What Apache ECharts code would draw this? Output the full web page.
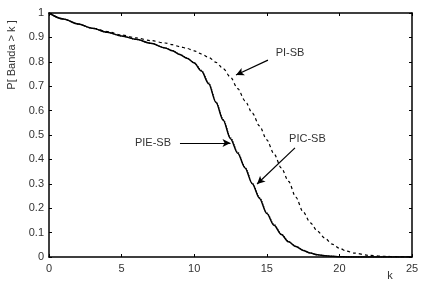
<!DOCTYPE html>
<html><head><meta charset="utf-8">
<script src="https://cdn.jsdelivr.net/npm/echarts@6/dist/echarts.min.js"></script>
<style>html,body{margin:0;padding:0;background:#fff}#c{width:427px;height:284px}</style>
</head><body><div id="c"></div>
<script>
// k values
var kValues = [0,1,2,3,4,5,6,7,8,8.5,9,9.5,10,10.5,11,11.5,12,12.5,13,13.5,14,14.5,15,15.5,16,16.5,17,17.5,18,18.5,19,19.5,20,20.5,21,22,23,24,25];
// PIE-SB (solid)
var pieSB = [1.0,0.975,0.955,0.937,0.921,0.906,0.892,0.876,0.857,0.845,0.83,0.815,0.795,0.762,0.71,0.633,0.56,0.485,0.425,0.365,0.30,0.24,0.178,0.13,0.092,0.062,0.043,0.027,0.016,0.009,0.005,0.003,0.001,0.0005,0,0,0,0,0];
// PIC-SB (dotted)
var picSB = [1.0,0.975,0.955,0.937,0.921,0.906,0.892,0.876,0.857,0.846,0.831,0.816,0.797,0.765,0.714,0.637,0.564,0.489,0.429,0.369,0.304,0.244,0.181,0.133,0.094,0.064,0.044,0.028,0.016,0.009,0.005,0.003,0.001,0.0005,0,0,0,0,0];
// PI-SB (dashed)
var piSB = [1.0,0.975,0.955,0.938,0.924,0.910,0.898,0.887,0.877,0.870,0.862,0.855,0.845,0.832,0.818,0.798,0.772,0.737,0.69,0.64,0.59,0.537,0.48,0.422,0.365,0.31,0.245,0.185,0.14,0.105,0.077,0.053,0.036,0.024,0.016,0.007,0.003,0.001,0];
var xTicks = [0,5,10,15,20,25];
var yTicks = [0,0.1,0.2,0.3,0.4,0.5,0.6,0.7,0.8,0.9,1];
// annotations: [label, textK, textP, arrowFromK, arrowFromP, arrowToK, arrowToP]
var annotations = [
  ['PI-SB', 16.6, 0.836, 15.08, 0.807, 12.88, 0.746],
  ['PIC-SB', 17.8, 0.484, 16.94, 0.447, 14.33, 0.299],
  ['PIE-SB', 7.16, 0.467, 9.02, 0.467, 12.5, 0.467]
];

function pairs(ys){ return kValues.map(function(k,i){return [k, ys[i]];}); }
var chart = echarts.init(document.getElementById('c'));
var font = 'Liberation Sans, Arial, sans-serif';
var txtColor = '#333';
function axisCommon(){ return {
  axisLine:{show:true,onZero:false,lineStyle:{color:'#000',width:1.5}},
  axisTick:{show:true,inside:true,length:3,lineStyle:{color:'#000'}},
  splitLine:{show:false}
};}
var xAxisMain = Object.assign(axisCommon(), {type:'value',min:0,max:25,interval:5,position:'bottom',
  axisLabel:{color:txtColor,fontFamily:font,fontSize:11,margin:6}});
var xAxisTop = Object.assign(axisCommon(), {type:'value',min:0,max:25,interval:5,position:'top',axisLabel:{show:false}});
var yAxisMain = Object.assign(axisCommon(), {type:'value',min:0,max:1,interval:0.1,position:'left',
  axisLabel:{color:txtColor,fontFamily:font,fontSize:11,margin:5,formatter:function(v){return String(+v.toFixed(1));}}});
var yAxisRight = Object.assign(axisCommon(), {type:'value',min:0,max:1,interval:0.1,position:'right',axisLabel:{show:false}});

var markData = annotations.map(function(a){
  return [{coord:[a[3],a[4]],symbol:'none'},{coord:[a[5],a[6]],symbol:'arrow'}];
});

chart.setOption({
  animation:false,
  grid:{left:49,top:13,right:15,bottom:27,containLabel:false},
  xAxis:[xAxisMain,xAxisTop],
  yAxis:[yAxisMain,yAxisRight],
  series:[
    {type:'line',name:'PI-SB',data:pairs(piSB),smooth:0.3,smoothMonotone:'x',showSymbol:false,
     lineStyle:{color:'#000',width:1.2,type:[3,3]},
     markLine:{silent:true,symbolSize:[6,8],label:{show:false},
       lineStyle:{color:'#000',width:1.2,type:'solid'},data:markData}},
    {type:'line',name:'PIC-SB',data:pairs(picSB),smooth:0.3,smoothMonotone:'x',showSymbol:false,
     lineStyle:{color:'#000',width:1.2,type:[1,1.5]}},
    {type:'line',name:'PIE-SB',data:pairs(pieSB),smooth:0.3,smoothMonotone:'x',showSymbol:false,
     lineStyle:{color:'#000',width:1.5,type:'solid'}}
  ]
});

var gfx = annotations.map(function(a){
  var p = chart.convertToPixel({gridIndex:0},[a[1],a[2]]);
  return {type:'text',x:p[0],y:p[1],style:{text:a[0],fill:txtColor,font:'11px '+font,textAlign:'center',textVerticalAlign:'middle'}};
});
gfx.push({type:'text',x:12,y:55,rotation:Math.PI/2,style:{text:'P[ Banda > k ]',fill:txtColor,font:'11px '+font,textAlign:'center',textVerticalAlign:'middle'}});
gfx.push({type:'text',x:390,y:276,style:{text:'k',fill:txtColor,font:'11px '+font,textAlign:'center',textVerticalAlign:'middle'}});
chart.setOption({graphic:gfx});
</script></body></html>
